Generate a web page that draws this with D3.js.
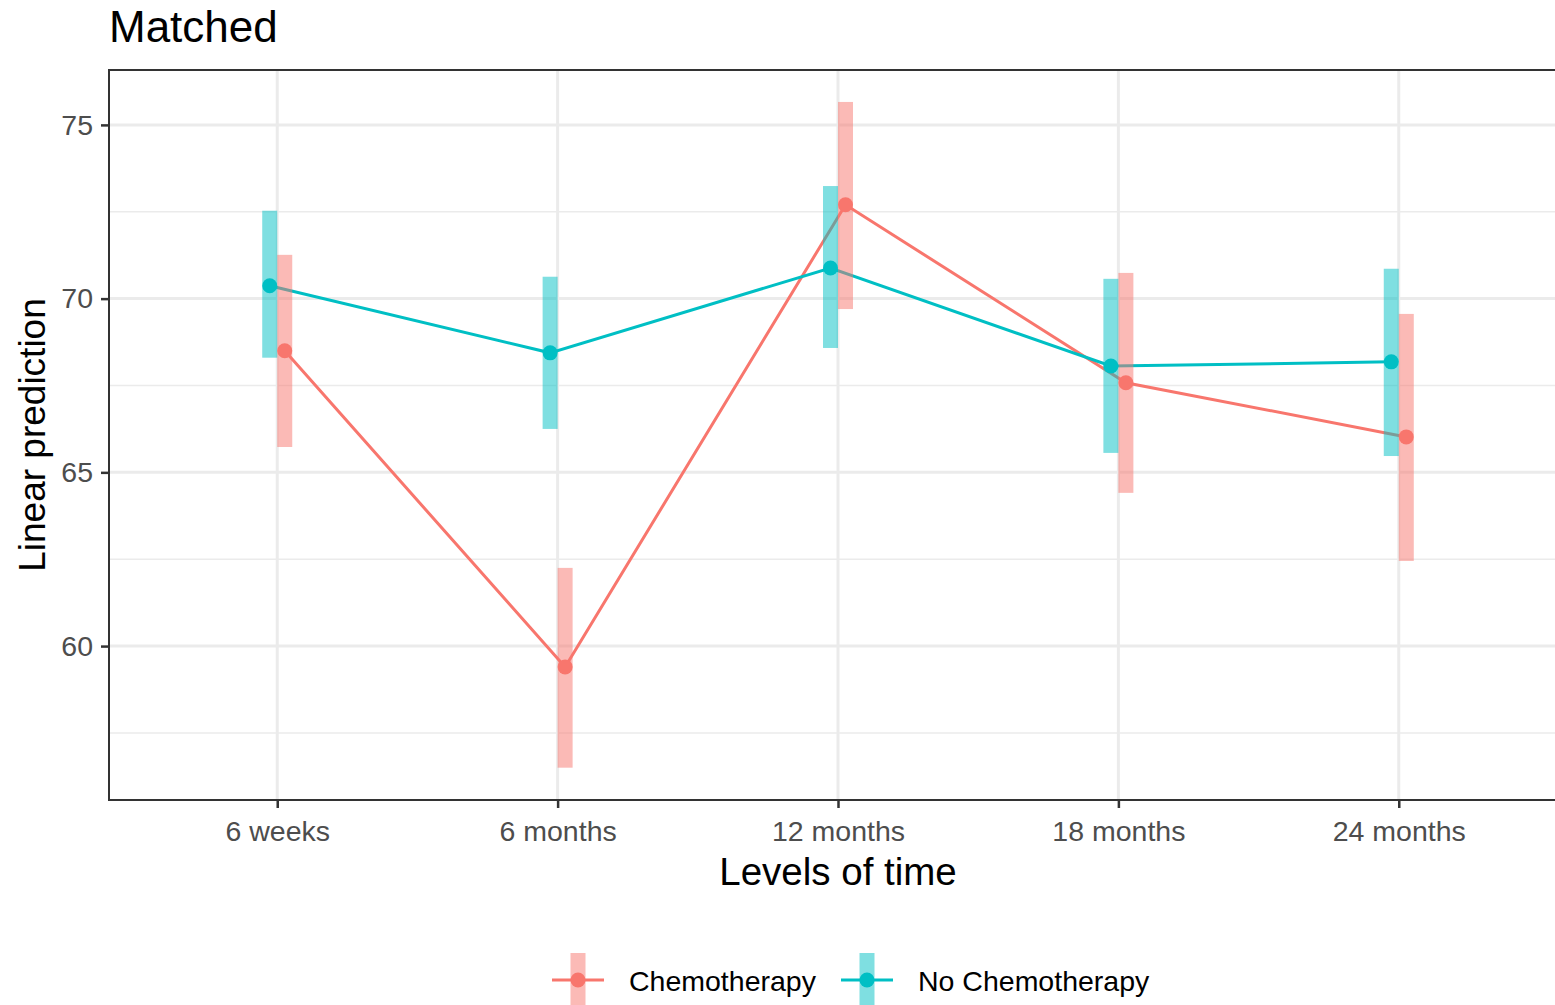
<!DOCTYPE html>
<html>
<head>
<meta charset="utf-8">
<script src="https://cdn.jsdelivr.net/npm/d3@7"></script>
<style>
  body { margin: 0; background: #fff; }
  text { font-family: "Liberation Sans", Arial, sans-serif; }
</style>
</head>
<body>
<div id="chart"></div>
<script>
// data
var times = ["6 weeks", "6 months", "12 months", "18 months", "24 months"];
var groups = ["Chemotherapy", "No Chemotherapy"];
var chemoFit = [68.5, 59.4, 72.7, 67.58, 66.02];
var chemoLow = [65.73, 56.5, 69.7, 64.41, 62.45];
var chemoHigh = [71.26, 62.25, 75.66, 70.74, 69.56];
var noChemoFit = [70.37, 68.44, 70.88, 68.06, 68.18];
var noChemoLow = [68.3, 66.25, 68.58, 65.56, 65.47];
var noChemoHigh = [72.53, 70.63, 73.24, 70.57, 70.86];
var yTicks = [60, 65, 70, 75];
var yMinor = [57.5, 62.5, 67.5, 72.5];
var colors = ["#F8766D", "#00BFC4"];

var W = 1555, H = 1005;
var mrg = { top: 70, left: 109, bottom: 205 };
var panelRight = 1567;

var svg = d3.select("#chart").append("svg")
    .attr("width", W).attr("height", H);

var xScale = d3.scalePoint().domain(times)
    .range([mrg.left, panelRight]).padding(0.6);
var yScale = d3.scaleLinear().domain([55.57, 76.58])
    .range([H - mrg.bottom, mrg.top]);

var dodge = [7.5, -7.5];

var series = [
  { name: groups[0], fit: chemoFit, lo: chemoLow, hi: chemoHigh },
  { name: groups[1], fit: noChemoFit, lo: noChemoLow, hi: noChemoHigh }
];

// grid
var grid = svg.append("g");
grid.selectAll(".minor").data(yMinor).enter().append("line")
    .attr("x1", mrg.left).attr("x2", W)
    .attr("y1", d => yScale(d)).attr("y2", d => yScale(d))
    .attr("stroke", "#EBEBEB").attr("stroke-width", 1.5);
grid.selectAll(".major").data(yTicks).enter().append("line")
    .attr("x1", mrg.left).attr("x2", W)
    .attr("y1", d => yScale(d)).attr("y2", d => yScale(d))
    .attr("stroke", "#EBEBEB").attr("stroke-width", 3);
grid.selectAll(".vmajor").data(times).enter().append("line")
    .attr("x1", d => xScale(d)).attr("x2", d => xScale(d))
    .attr("y1", mrg.top).attr("y2", H - mrg.bottom)
    .attr("stroke", "#EBEBEB").attr("stroke-width", 3);

var line = d3.line();

// lines
series.forEach(function(s, i) {
  svg.append("path")
    .attr("d", line(times.map((t, j) => [xScale(t) + dodge[i], yScale(s.fit[j])])))
    .attr("fill", "none").attr("stroke", colors[i]).attr("stroke-width", 3);
});

// intervals
series.forEach(function(s, i) {
  svg.selectAll(".bar" + i).data(times).enter().append("rect")
    .attr("x", t => xScale(t) + dodge[i] - 7.5)
    .attr("width", 15)
    .attr("y", (t, j) => yScale(s.hi[j]))
    .attr("height", (t, j) => yScale(s.lo[j]) - yScale(s.hi[j]))
    .attr("fill", colors[i]).attr("fill-opacity", 0.5);
});

// points
series.forEach(function(s, i) {
  svg.selectAll(".pt" + i).data(times).enter().append("circle")
    .attr("cx", t => xScale(t) + dodge[i])
    .attr("cy", (t, j) => yScale(s.fit[j]))
    .attr("r", 7.5)
    .attr("fill", colors[i]);
});

// panel border
svg.append("path")
  .attr("d", `M${W + 5},${mrg.top}H${mrg.left}V${H - mrg.bottom}H${W + 5}`)
  .attr("fill", "none").attr("stroke", "#333333").attr("stroke-width", 2);

// axes
var yAxis = svg.append("g")
  .attr("transform", `translate(${mrg.left},0)`)
  .call(d3.axisLeft(yScale).tickValues(yTicks).tickSize(8).tickPadding(8));
var xAxis = svg.append("g")
  .attr("transform", `translate(0,${H - mrg.bottom})`)
  .call(d3.axisBottom(xScale).tickSize(8).tickPadding(6));
[yAxis, xAxis].forEach(function(a) {
  a.select(".domain").remove();
  a.selectAll(".tick line").attr("stroke", "#333333").attr("stroke-width", 2.5);
  a.selectAll(".tick text").attr("fill", "#4D4D4D")
    .style("font-size", "28.5px").style("font-family", "Liberation Sans, Arial, sans-serif");
});
xAxis.selectAll(".tick text").attr("dy", "0.95em");

// titles
svg.append("text").attr("x", mrg.left).attr("y", 42)
  .style("font-size", "44px").text("Matched");
svg.append("text").attr("x", (mrg.left + panelRight) / 2).attr("y", 885)
  .attr("text-anchor", "middle").style("font-size", "38.5px").text("Levels of time");
svg.append("text")
  .attr("transform", `translate(45,${(mrg.top + H - mrg.bottom) / 2}) rotate(-90)`)
  .attr("text-anchor", "middle").style("font-size", "37px").text("Linear prediction");

// legend
var legendX = [578, 867];
groups.forEach(function(g, i) {
  var lg = svg.append("g").attr("transform", `translate(${legendX[i]},980)`);
  lg.append("line").attr("x1", -26).attr("x2", 26)
    .attr("stroke", colors[i]).attr("stroke-width", 3);
  lg.append("rect").attr("x", -7.5).attr("y", -27).attr("width", 15).attr("height", 54)
    .attr("fill", colors[i]).attr("fill-opacity", 0.5);
  lg.append("circle").attr("r", 7.5).attr("fill", colors[i]);
  lg.append("text").attr("x", 51).attr("y", 11)
    .style("font-size", "28.5px").text(g);
});
</script>
</body>
</html>
